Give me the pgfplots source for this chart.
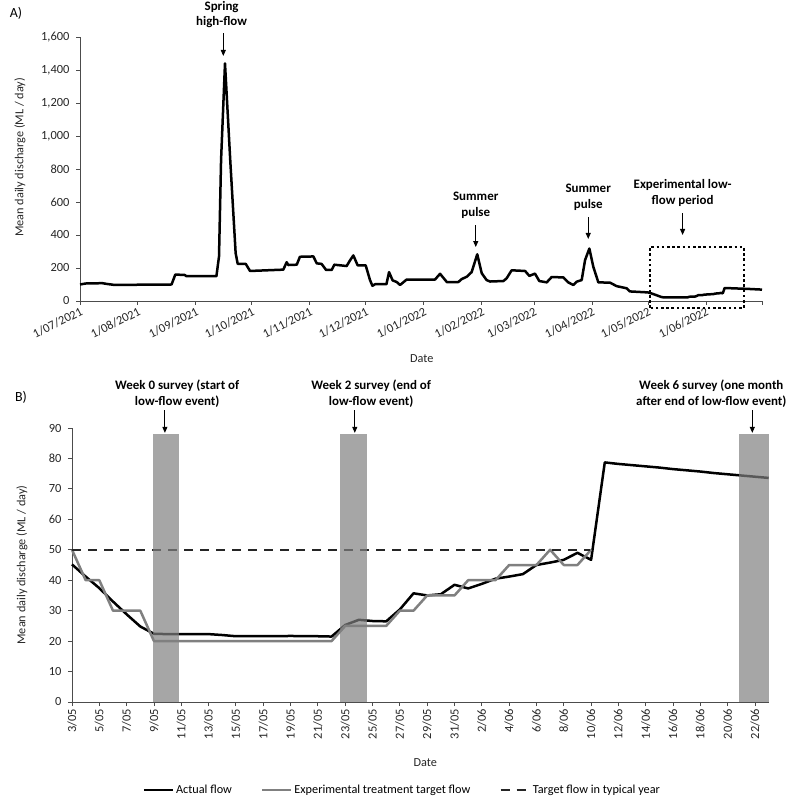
\documentclass[border=0pt]{standalone}
\usepackage{fontspec}
\setmainfont{Carlito}
\usepackage{pgfplots}
\pgfplotsset{compat=1.18}
\usetikzlibrary{arrows.meta}
\definecolor{bargray}{gray}{0.5}
\definecolor{axgray}{gray}{0.3}
\begin{document}
\begin{tikzpicture}
\path[use as bounding box] (0bp,0bp) rectangle (800bp,809bp);
\pgfplotsset{
  every axis/.append style={
    scale only axis,
    axis x line*=bottom, axis y line*=left,
    tick align=outside, major tick length=4bp,
    axis line style={line width=0.9bp, axgray},
    major tick style={line width=0.9bp, axgray},
    tick label style={font=\fontsize{12.5}{14}\selectfont, text=black!85},
    yticklabel style={xshift=-3bp},
    label style={font=\fontsize{12.3}{14}\selectfont, text=black!85},
    /pgf/number format/assume math mode=true,
    clip=false,
  },
}
\tikzset{
  ann/.style={font=\bfseries\fontsize{13}{15.5}\selectfont, align=center, inner sep=0pt, anchor=south},
  annarrow/.style={line width=0.9bp, -{Triangle[length=6bp,width=5bp]}},
}
\node[font=\fontsize{14}{16}\selectfont] at (16bp,796bp) {A)};
\node[font=\fontsize{14}{16}\selectfont] at (21bp,412bp) {B)};

% ---------------- Panel A ----------------
\begin{axis}[
  at={(80bp,508bp)}, anchor=south west, width=682bp, height=264bp,
  xmin=0, xmax=365, ymin=0, ymax=1600,
  ytick={0,200,...,1600}, scaled y ticks=false,
  yticklabel style={/pgf/number format/1000 sep={,}},
  xtick={0,31,62,92,123,153,184,215,243,274,304,335,365},
  xticklabels={1/07/2021,1/08/2021,1/09/2021,1/10/2021,1/11/2021,1/12/2021,1/01/2022,1/02/2022,1/03/2022,1/04/2022,1/05/2022,1/06/2022,{}},
  xticklabel style={rotate=27, anchor=north east, inner sep=1bp},
  xlabel={Date},
  xlabel style={at={(axis description cs:0.501,-0.22)}, anchor=center},
  ylabel={Mean daily discharge (ML / day)},
  ylabel style={at={(axis description cs:-0.088,0.544)}, anchor=center},
]
\addplot[black, line width=2.5bp, line join=round] coordinates {
(0,100) (3,106) (12,108) (14,104) (18,98) (25,98) (49,100) (51,160) (56,158) (57,150) (73,150)
(74.4,270) (75.5,855) (77.6,1440) (80.4,855) (83.3,290) (84.4,225) (88.7,225) (91,182) (100,186)
(108.8,190) (110.6,235) (111.5,218) (116,220) (117.7,268) (124.9,270) (126.7,228) (129.3,225)
(131.7,188) (134.7,188) (136.1,220) (142.7,212) (144.5,246) (146.3,276) (148.6,216) (152.9,216)
(155.2,127) (156.5,92) (158,102) (164,102) (165.4,175) (167.3,125) (169.5,115) (171.3,97)
(174.8,130) (190,130) (192.7,165) (196.3,115) (202.5,115) (204.3,133) (207,147) (209.6,175)
(212.6,283) (215,168) (217.6,127) (219.4,118) (226.6,121) (228.3,137) (231,186) (238.2,182)
(240.5,152) (243.5,166) (245.8,121) (249.8,113) (252.4,145) (258.7,143) (261.3,113) (264,97)
(265.8,117) (268.5,127) (270.3,248) (272.6,318) (274.7,208) (277.4,113) (283.7,111) (287.2,90)
(292.6,77) (294.3,58) (304,52) (306,45.2) (307,41.2) (308,37.4) (309,33) (310,28.8) (311,24.8)
(312,22.4) (316,22.3) (318,21.6) (325,21.5) (326,25.3) (327,27) (329,26.5) (330,30.4) (331,35.7)
(333,35.4) (334,38.5) (337,40.5) (339,42) (340,45) (342,46.7) (343,49) (344,46.7) (345,78.7)
(357,73.6) (365,69)
};
\draw[line width=2.5bp, dash pattern=on 2.6bp off 2.6bp] (axis cs:305,-42) rectangle (axis cs:355.4,327);
\draw[annarrow] (axis cs:76.7,1624) -- (axis cs:76.7,1485);
\node[ann] at (axis cs:75.8,1655) {Spring\\high-flow};
\draw[annarrow] (axis cs:211.8,460) -- (axis cs:211.8,327);
\node[ann] at (axis cs:211.8,500) {Summer\\pulse};
\draw[annarrow] (axis cs:272,509) -- (axis cs:272,376);
\node[ann] at (axis cs:272,548) {Summer\\pulse};
\draw[annarrow] (axis cs:322.5,533) -- (axis cs:322.5,400);
\node[ann] at (axis cs:322.5,573) {Experimental low-\\flow period};
\end{axis}

% ---------------- Panel B ----------------
\begin{axis}[
  at={(72bp,107bp)}, anchor=south west, width=696.7bp, height=274bp,
  xmin=0, xmax=51, ymin=0, ymax=90,
  ytick={0,10,...,90},
  xtick={0,2,...,50},
  xticklabels={3/05,5/05,7/05,9/05,11/05,13/05,15/05,17/05,19/05,21/05,23/05,25/05,27/05,29/05,31/05,2/06,4/06,6/06,8/06,10/06,12/06,14/06,16/06,18/06,20/06,22/06},
  xticklabel style={rotate=90, anchor=east, inner sep=3bp},
  xlabel={Date},
  xlabel style={at={(axis description cs:0.507,-0.223)}, anchor=center},
  ylabel={Mean daily discharge (ML / day)},
  ylabel style={at={(axis description cs:-0.072,0.5)}, anchor=center},
  legend columns=3,
  legend style={at={(axis description cs:0.474,-0.321)}, anchor=center, draw=none,
    font=\fontsize{12.3}{14}\selectfont, inner sep=0pt,
    /tikz/every even column/.append style={column sep=27bp}},
  legend image code/.code={\draw[#1] (0bp,0bp) -- (29bp,0bp);},
]
\addplot[black, line width=2.5bp, line join=round] coordinates {
(0,45.2) (1,41.2) (2,37.4) (3,33.0) (4,28.8) (5,24.8) (6,22.4) (7,22.3) (8,22.3) (9,22.3) (10,22.3)
(11,22.0) (12,21.6) (13,21.6) (14,21.6) (15,21.6) (16,21.7) (17,21.6) (18,21.6) (19,21.5)
(20,25.3) (21,27.0) (22,26.6) (23,26.5) (24,30.4) (25,35.7) (26,35.0) (27,35.4) (28,38.5)
(29,37.3) (30,38.8) (31,40.5) (32,41.2) (33,42.0) (34,45.0) (35,45.8) (36,46.7) (37,49.0)
(38,46.7) (39,78.7) (40,78.2) (41,77.8) (42,77.4) (43,77.0) (44,76.5) (45,76.1) (46,75.7)
(47,75.2) (48,74.8) (49,74.4) (50,74.0) (51,73.6)
};
\addlegendentry{Actual flow}
\addplot[gray, line width=2.5bp, line join=round] coordinates {
(0,50) (1,40) (2,40) (3,30) (4,30) (5,30) (6,20) (7,20) (8,20) (9,20) (10,20) (11,20) (12,20)
(13,20) (14,20) (15,20) (16,20) (17,20) (18,20) (19,20) (20,25) (21,25) (22,25) (23,25) (24,30)
(25,30) (26,35) (27,35) (28,35) (29,40) (30,40) (31,40) (32,45) (33,45) (34,45) (35,50) (36,45)
(37,45) (38,50)
};
\addlegendentry{Experimental treatment target flow}
\addplot[black!85, line width=2.5bp, dash pattern=on 9bp off 7bp] coordinates {(0,50) (37.9,50)};
\addlegendentry{Target flow in typical year}
\addplot[fill=bargray, fill opacity=0.7, draw=none, forget plot] coordinates {(5.9,88) (7.85,88)} \closedcycle;
\addplot[fill=bargray, fill opacity=0.7, draw=none, forget plot] coordinates {(19.6,88) (21.57,88)} \closedcycle;
\addplot[fill=bargray, fill opacity=0.7, draw=none, forget plot] coordinates {(48.85,88) (51,88)} \closedcycle;
\draw[annarrow] (axis cs:6.8,95.9) -- (axis cs:6.8,88.4);
\node[ann] at (axis cs:7.7,96.8) {Week 0 survey (start of\\low-flow event)};
\draw[annarrow] (axis cs:20.7,95.9) -- (axis cs:20.7,88.4);
\node[ann] at (axis cs:21.9,96.8) {Week 2 survey (end of\\low-flow event)};
\draw[annarrow] (axis cs:49.8,95.9) -- (axis cs:49.8,88.4);
\node[ann] at (axis cs:46.8,96.8) {Week 6 survey (one month\\after end of low-flow event)};
\end{axis}
\end{tikzpicture}
\end{document}
